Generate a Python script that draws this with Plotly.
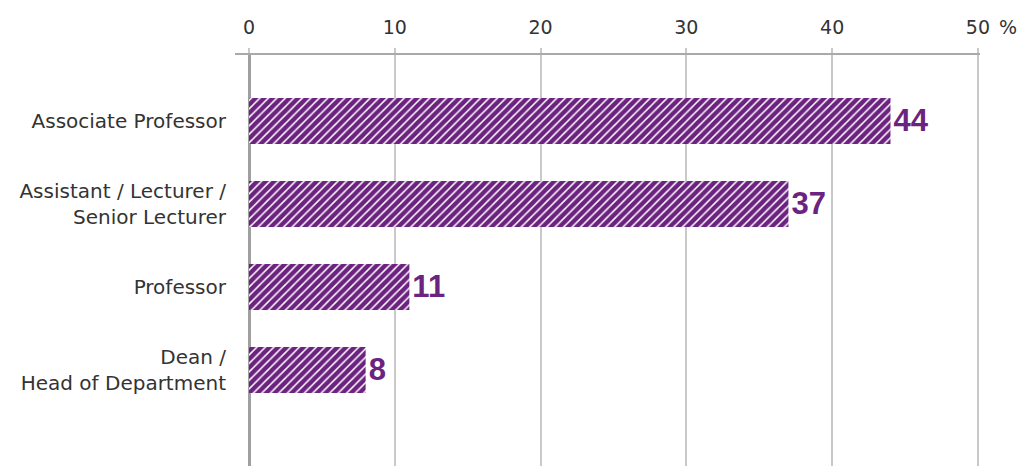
import plotly.graph_objects as go

# Share of respondents by academic position (%)
positions = [
    "Associate Professor",
    "Assistant / Lecturer /<br>Senior Lecturer",
    "Professor",
    "Dean /<br>Head of Department",
]
shares = [44, 37, 11, 8]
x_ticks = [0, 10, 20, 30, 40, 50]

PURPLE = "#6c2380"
GRID = "#c9c9c9"
TEXT = "#333333"
FONT = "DejaVu Sans"

fig = go.Figure(
    go.Bar(
        x=shares,
        y=positions,
        orientation="h",
        width=0.555,
        marker=dict(
            color=PURPLE,
            line=dict(width=0),
            pattern=dict(
                shape="/",
                fgcolor="white",
                bgcolor=PURPLE,
                fillmode="replace",
                size=6,
                solidity=0.25,
            ),
        ),
        text=[str(v) for v in shares],
        textposition="outside",
        textfont=dict(family="Liberation Sans", size=31, color=PURPLE, weight="bold"),
        cliponaxis=False,
        hoverinfo="skip",
    )
)

fig.update_layout(
    width=1025,
    height=466,
    margin=dict(l=235, r=45, t=55, b=0),
    paper_bgcolor="white",
    plot_bgcolor="white",
    showlegend=False,
    font=dict(family=FONT, size=20, color=TEXT),
    bargap=0.445,
    xaxis=dict(
        side="top",
        range=[-0.96, 50.14],
        tickvals=x_ticks,
        ticktext=[str(t) for t in x_ticks],
        ticks="outside",
        ticklen=5,
        tickcolor=GRID,
        tickwidth=1.5,
        tickfont=dict(family=FONT, size=19, color=TEXT),
        ticklabelstandoff=6,
        showgrid=True,
        gridcolor=GRID,
        gridwidth=1.5,
        showline=True,
        linecolor="#a9a9a9",
        linewidth=2,
        zeroline=True,
        zerolinecolor="#a0a0a0",
        zerolinewidth=2.5,
        fixedrange=True,
    ),
    yaxis=dict(
        type="category",
        categoryorder="array",
        categoryarray=positions,
        range=[4.157, -0.795],
        ticks="",
        showgrid=False,
        showline=False,
        zeroline=False,
        tickfont=dict(family=FONT, size=20, color=TEXT),
        ticklabelstandoff=8,
        fixedrange=True,
    ),
    annotations=[
        dict(
            text="%",
            x=1.037,
            xref="paper",
            xanchor="center",
            y=1,
            yref="paper",
            yanchor="bottom",
            yshift=15,
            showarrow=False,
            font=dict(family=FONT, size=19, color=TEXT),
        )
    ],
)

fig.write_html("out.html")
